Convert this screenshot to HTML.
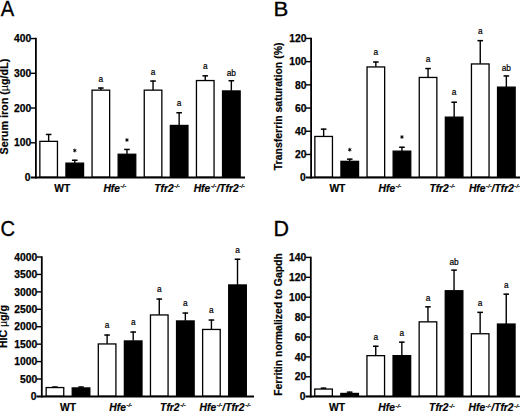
<!DOCTYPE html>
<html><head><meta charset="utf-8"><title>Figure</title>
<style>
html,body{margin:0;padding:0;background:#fff;}
body{width:520px;height:413px;overflow:hidden;}
svg{display:block;font-family:"Liberation Sans", sans-serif;}
</style></head><body>
<svg width="520" height="413" viewBox="0 0 520 413" font-family='"Liberation Sans", sans-serif'>
<rect width="520" height="413" fill="#fff"/>
<text transform="translate(0.8,16.2) scale(0.96,1.02)" font-size="21" stroke="#000" stroke-width="0.3">A</text>
<line x1="48.65" y1="141.20" x2="48.65" y2="134.00" stroke="#000" stroke-width="1.4"/><line x1="45.85" y1="134.45" x2="51.45" y2="134.45" stroke="#000" stroke-width="1.5"/>
<rect x="39.85" y="141.35" width="17.60" height="35.90" fill="#fff" stroke="#000" stroke-width="1.3"/>
<line x1="74.75" y1="163.00" x2="74.75" y2="159.80" stroke="#000" stroke-width="1.4"/><line x1="71.95" y1="160.25" x2="77.55" y2="160.25" stroke="#000" stroke-width="1.5"/>
<rect x="65.95" y="163.15" width="17.60" height="14.10" fill="#000" stroke="#000" stroke-width="1.3"/>
<path d="M74.75 148.65L74.75 152.35M76.35 149.57L73.15 151.43M76.35 151.43L73.15 149.57" stroke="#000" stroke-width="0.95" fill="none"/><circle cx="74.75" cy="150.50" r="0.8" fill="#000"/>
<line x1="100.85" y1="90.00" x2="100.85" y2="87.60" stroke="#000" stroke-width="1.4"/><line x1="98.05" y1="88.05" x2="103.65" y2="88.05" stroke="#000" stroke-width="1.5"/>
<rect x="92.05" y="90.15" width="17.60" height="87.10" fill="#fff" stroke="#000" stroke-width="1.3"/>
<text x="100.85" y="81.90" font-size="8.3" text-anchor="middle" fill="#000" stroke="#000" stroke-width="0.2">a</text>
<line x1="126.95" y1="154.10" x2="126.95" y2="149.00" stroke="#000" stroke-width="1.4"/><line x1="124.15" y1="149.45" x2="129.75" y2="149.45" stroke="#000" stroke-width="1.5"/>
<rect x="118.15" y="154.25" width="17.60" height="23.00" fill="#000" stroke="#000" stroke-width="1.3"/>
<path d="M126.95 138.15L126.95 141.85M128.55 139.07L125.35 140.93M128.55 140.93L125.35 139.07" stroke="#000" stroke-width="0.95" fill="none"/><circle cx="126.95" cy="140.00" r="0.8" fill="#000"/>
<line x1="153.05" y1="90.00" x2="153.05" y2="80.60" stroke="#000" stroke-width="1.4"/><line x1="150.25" y1="81.05" x2="155.85" y2="81.05" stroke="#000" stroke-width="1.5"/>
<rect x="144.25" y="90.15" width="17.60" height="87.10" fill="#fff" stroke="#000" stroke-width="1.3"/>
<text x="153.05" y="74.80" font-size="8.3" text-anchor="middle" fill="#000" stroke="#000" stroke-width="0.2">a</text>
<line x1="179.15" y1="125.30" x2="179.15" y2="112.30" stroke="#000" stroke-width="1.4"/><line x1="176.35" y1="112.75" x2="181.95" y2="112.75" stroke="#000" stroke-width="1.5"/>
<rect x="170.35" y="125.45" width="17.60" height="51.80" fill="#000" stroke="#000" stroke-width="1.3"/>
<text x="179.15" y="106.00" font-size="8.3" text-anchor="middle" fill="#000" stroke="#000" stroke-width="0.2">a</text>
<line x1="205.25" y1="80.40" x2="205.25" y2="75.40" stroke="#000" stroke-width="1.4"/><line x1="202.45" y1="75.85" x2="208.05" y2="75.85" stroke="#000" stroke-width="1.5"/>
<rect x="196.45" y="80.55" width="17.60" height="96.70" fill="#fff" stroke="#000" stroke-width="1.3"/>
<text x="205.25" y="69.30" font-size="8.3" text-anchor="middle" fill="#000" stroke="#000" stroke-width="0.2">a</text>
<line x1="231.35" y1="90.80" x2="231.35" y2="80.30" stroke="#000" stroke-width="1.4"/><line x1="228.55" y1="80.75" x2="234.15" y2="80.75" stroke="#000" stroke-width="1.5"/>
<rect x="222.55" y="90.95" width="17.60" height="86.30" fill="#000" stroke="#000" stroke-width="1.3"/>
<text x="231.35" y="75.60" font-size="8.3" text-anchor="middle" fill="#000" stroke="#000" stroke-width="0.2">ab</text>
<line x1="35.9" y1="37.85" x2="35.9" y2="178.45" stroke="#000" stroke-width="1.8"/>
<line x1="30.599999999999998" y1="177.45" x2="245" y2="177.45" stroke="#000" stroke-width="1.9"/>
<line x1="30.599999999999998" y1="38.55" x2="35.9" y2="38.55" stroke="#000" stroke-width="1.4"/>
<text x="31.30" y="42.20" font-size="10.3" font-weight="bold" text-anchor="end" stroke="#000" stroke-width="0.25">400</text>
<line x1="30.599999999999998" y1="73.30" x2="35.9" y2="73.30" stroke="#000" stroke-width="1.4"/>
<text x="31.30" y="76.95" font-size="10.3" font-weight="bold" text-anchor="end" stroke="#000" stroke-width="0.25">300</text>
<line x1="30.599999999999998" y1="108.05" x2="35.9" y2="108.05" stroke="#000" stroke-width="1.4"/>
<text x="31.30" y="111.70" font-size="10.3" font-weight="bold" text-anchor="end" stroke="#000" stroke-width="0.25">200</text>
<line x1="30.599999999999998" y1="142.80" x2="35.9" y2="142.80" stroke="#000" stroke-width="1.4"/>
<text x="31.30" y="146.45" font-size="10.3" font-weight="bold" text-anchor="end" stroke="#000" stroke-width="0.25">100</text>
<text x="30.50" y="181.20" font-size="10.3" font-weight="bold" text-anchor="end" stroke="#000" stroke-width="0.25">0</text>
<text transform="translate(7.5,106.6) rotate(-90)" font-size="10.75" font-weight="bold" text-anchor="middle" stroke="#000" stroke-width="0.2">Serum iron (<tspan font-weight="normal" stroke-width="0.1">µ</tspan>g/dL)</text>
<text x="54.20" y="191.5" font-size="10.3" font-weight="bold" stroke="#000" stroke-width="0.2">WT</text>
<text x="103.40" y="191.5" font-size="10.3" font-weight="bold" stroke="#000" stroke-width="0.2" font-style="italic">Hfe<tspan font-size="5.8" dy="-3.7" dx="0.6">-/-</tspan></text>
<text x="154.20" y="191.5" font-size="10.3" font-weight="bold" stroke="#000" stroke-width="0.2" font-style="italic">Tfr2<tspan font-size="5.8" dy="-3.7" dx="0.6">-/-</tspan></text>
<text x="193.70" y="191.5" font-size="10.3" font-weight="bold" stroke="#000" stroke-width="0.2" font-style="italic">Hfe<tspan font-size="5.8" dy="-3.7" dx="0.6">-/-</tspan><tspan dy="3.7" font-size="10.3">/Tfr2</tspan><tspan font-size="5.8" dy="-3.7" dx="0.6">-/-</tspan></text>
<text transform="translate(273.5,16.3) scale(1.06,1)" font-size="21" stroke="#000" stroke-width="0.3">B</text>
<line x1="323.65" y1="136.30" x2="323.65" y2="128.70" stroke="#000" stroke-width="1.4"/><line x1="320.85" y1="129.15" x2="326.45" y2="129.15" stroke="#000" stroke-width="1.5"/>
<rect x="314.85" y="136.45" width="17.60" height="40.85" fill="#fff" stroke="#000" stroke-width="1.3"/>
<line x1="349.75" y1="161.20" x2="349.75" y2="158.70" stroke="#000" stroke-width="1.4"/><line x1="346.95" y1="159.15" x2="352.55" y2="159.15" stroke="#000" stroke-width="1.5"/>
<rect x="340.95" y="161.35" width="17.60" height="15.95" fill="#000" stroke="#000" stroke-width="1.3"/>
<path d="M349.75 147.85L349.75 151.55M351.35 148.77L348.15 150.62M351.35 150.62L348.15 148.77" stroke="#000" stroke-width="0.95" fill="none"/><circle cx="349.75" cy="149.70" r="0.8" fill="#000"/>
<line x1="375.85" y1="66.80" x2="375.85" y2="61.60" stroke="#000" stroke-width="1.4"/><line x1="373.05" y1="62.05" x2="378.65" y2="62.05" stroke="#000" stroke-width="1.5"/>
<rect x="367.05" y="66.95" width="17.60" height="110.35" fill="#fff" stroke="#000" stroke-width="1.3"/>
<text x="375.85" y="55.00" font-size="8.3" text-anchor="middle" fill="#000" stroke="#000" stroke-width="0.2">a</text>
<line x1="401.95" y1="151.00" x2="401.95" y2="146.80" stroke="#000" stroke-width="1.4"/><line x1="399.15" y1="147.25" x2="404.75" y2="147.25" stroke="#000" stroke-width="1.5"/>
<rect x="393.15" y="151.15" width="17.60" height="26.15" fill="#000" stroke="#000" stroke-width="1.3"/>
<path d="M401.95 135.15L401.95 138.85M403.55 136.07L400.35 137.93M403.55 137.93L400.35 136.07" stroke="#000" stroke-width="0.95" fill="none"/><circle cx="401.95" cy="137.00" r="0.8" fill="#000"/>
<line x1="428.05" y1="77.30" x2="428.05" y2="68.10" stroke="#000" stroke-width="1.4"/><line x1="425.25" y1="68.55" x2="430.85" y2="68.55" stroke="#000" stroke-width="1.5"/>
<rect x="419.25" y="77.45" width="17.60" height="99.85" fill="#fff" stroke="#000" stroke-width="1.3"/>
<text x="428.05" y="61.60" font-size="8.3" text-anchor="middle" fill="#000" stroke="#000" stroke-width="0.2">a</text>
<line x1="454.15" y1="117.00" x2="454.15" y2="101.80" stroke="#000" stroke-width="1.4"/><line x1="451.35" y1="102.25" x2="456.95" y2="102.25" stroke="#000" stroke-width="1.5"/>
<rect x="445.35" y="117.15" width="17.60" height="60.15" fill="#000" stroke="#000" stroke-width="1.3"/>
<text x="454.15" y="95.40" font-size="8.3" text-anchor="middle" fill="#000" stroke="#000" stroke-width="0.2">a</text>
<line x1="480.25" y1="63.80" x2="480.25" y2="40.20" stroke="#000" stroke-width="1.4"/><line x1="477.45" y1="40.65" x2="483.05" y2="40.65" stroke="#000" stroke-width="1.5"/>
<rect x="471.45" y="63.95" width="17.60" height="113.35" fill="#fff" stroke="#000" stroke-width="1.3"/>
<text x="480.25" y="34.10" font-size="8.3" text-anchor="middle" fill="#000" stroke="#000" stroke-width="0.2">a</text>
<line x1="506.35" y1="87.00" x2="506.35" y2="75.50" stroke="#000" stroke-width="1.4"/><line x1="503.55" y1="75.95" x2="509.15" y2="75.95" stroke="#000" stroke-width="1.5"/>
<rect x="497.55" y="87.15" width="17.60" height="90.15" fill="#000" stroke="#000" stroke-width="1.3"/>
<text x="506.35" y="70.80" font-size="8.3" text-anchor="middle" fill="#000" stroke="#000" stroke-width="0.2">ab</text>
<line x1="311.1" y1="37.75" x2="311.1" y2="178.5" stroke="#000" stroke-width="1.8"/>
<line x1="305.8" y1="177.5" x2="520" y2="177.5" stroke="#000" stroke-width="1.9"/>
<line x1="305.8" y1="38.45" x2="311.1" y2="38.45" stroke="#000" stroke-width="1.4"/>
<text x="306.50" y="42.10" font-size="10.3" font-weight="bold" text-anchor="end" stroke="#000" stroke-width="0.25">120</text>
<line x1="305.8" y1="61.65" x2="311.1" y2="61.65" stroke="#000" stroke-width="1.4"/>
<text x="306.50" y="65.30" font-size="10.3" font-weight="bold" text-anchor="end" stroke="#000" stroke-width="0.25">100</text>
<line x1="305.8" y1="84.85" x2="311.1" y2="84.85" stroke="#000" stroke-width="1.4"/>
<text x="306.50" y="88.50" font-size="10.3" font-weight="bold" text-anchor="end" stroke="#000" stroke-width="0.25">80</text>
<line x1="305.8" y1="108.05" x2="311.1" y2="108.05" stroke="#000" stroke-width="1.4"/>
<text x="306.50" y="111.70" font-size="10.3" font-weight="bold" text-anchor="end" stroke="#000" stroke-width="0.25">60</text>
<line x1="305.8" y1="131.25" x2="311.1" y2="131.25" stroke="#000" stroke-width="1.4"/>
<text x="306.50" y="134.90" font-size="10.3" font-weight="bold" text-anchor="end" stroke="#000" stroke-width="0.25">40</text>
<line x1="305.8" y1="154.45" x2="311.1" y2="154.45" stroke="#000" stroke-width="1.4"/>
<text x="306.50" y="158.10" font-size="10.3" font-weight="bold" text-anchor="end" stroke="#000" stroke-width="0.25">20</text>
<text x="305.70" y="181.30" font-size="10.3" font-weight="bold" text-anchor="end" stroke="#000" stroke-width="0.25">0</text>
<text transform="translate(281.5,106.4) rotate(-90)" font-size="10.5" font-weight="bold" text-anchor="middle" stroke="#000" stroke-width="0.2">Transferrin saturation (%)</text>
<text x="329.40" y="191.5" font-size="10.3" font-weight="bold" stroke="#000" stroke-width="0.2">WT</text>
<text x="378.60" y="191.5" font-size="10.3" font-weight="bold" stroke="#000" stroke-width="0.2" font-style="italic">Hfe<tspan font-size="5.8" dy="-3.7" dx="0.6">-/-</tspan></text>
<text x="429.40" y="191.5" font-size="10.3" font-weight="bold" stroke="#000" stroke-width="0.2" font-style="italic">Tfr2<tspan font-size="5.8" dy="-3.7" dx="0.6">-/-</tspan></text>
<text x="468.90" y="191.5" font-size="10.3" font-weight="bold" stroke="#000" stroke-width="0.2" font-style="italic">Hfe<tspan font-size="5.8" dy="-3.7" dx="0.6">-/-</tspan><tspan dy="3.7" font-size="10.3">/Tfr2</tspan><tspan font-size="5.8" dy="-3.7" dx="0.6">-/-</tspan></text>
<text transform="translate(0.6,236.0) scale(0.96,1.05)" font-size="21" stroke="#000" stroke-width="0.3">C</text>
<line x1="54.95" y1="387.40" x2="54.95" y2="386.60" stroke="#000" stroke-width="1.4"/><line x1="52.15" y1="387.05" x2="57.75" y2="387.05" stroke="#000" stroke-width="1.5"/>
<rect x="46.15" y="387.55" width="17.60" height="8.75" fill="#fff" stroke="#000" stroke-width="1.3"/>
<line x1="81.03" y1="387.80" x2="81.03" y2="386.60" stroke="#000" stroke-width="1.4"/><line x1="78.23" y1="387.05" x2="83.83" y2="387.05" stroke="#000" stroke-width="1.5"/>
<rect x="72.23" y="387.95" width="17.60" height="8.35" fill="#000" stroke="#000" stroke-width="1.3"/>
<line x1="107.11" y1="343.80" x2="107.11" y2="334.60" stroke="#000" stroke-width="1.4"/><line x1="104.31" y1="335.05" x2="109.91" y2="335.05" stroke="#000" stroke-width="1.5"/>
<rect x="98.31" y="343.95" width="17.60" height="52.35" fill="#fff" stroke="#000" stroke-width="1.3"/>
<text x="107.11" y="328.40" font-size="8.3" text-anchor="middle" fill="#000" stroke="#000" stroke-width="0.2">a</text>
<line x1="133.19" y1="340.80" x2="133.19" y2="331.60" stroke="#000" stroke-width="1.4"/><line x1="130.39" y1="332.05" x2="135.99" y2="332.05" stroke="#000" stroke-width="1.5"/>
<rect x="124.39" y="340.95" width="17.60" height="55.35" fill="#000" stroke="#000" stroke-width="1.3"/>
<text x="133.19" y="325.40" font-size="8.3" text-anchor="middle" fill="#000" stroke="#000" stroke-width="0.2">a</text>
<line x1="159.27" y1="314.80" x2="159.27" y2="298.60" stroke="#000" stroke-width="1.4"/><line x1="156.47" y1="299.05" x2="162.07" y2="299.05" stroke="#000" stroke-width="1.5"/>
<rect x="150.47" y="314.95" width="17.60" height="81.35" fill="#fff" stroke="#000" stroke-width="1.3"/>
<text x="159.27" y="292.40" font-size="8.3" text-anchor="middle" fill="#000" stroke="#000" stroke-width="0.2">a</text>
<line x1="185.35" y1="320.80" x2="185.35" y2="312.60" stroke="#000" stroke-width="1.4"/><line x1="182.55" y1="313.05" x2="188.15" y2="313.05" stroke="#000" stroke-width="1.5"/>
<rect x="176.55" y="320.95" width="17.60" height="75.35" fill="#000" stroke="#000" stroke-width="1.3"/>
<text x="185.35" y="306.40" font-size="8.3" text-anchor="middle" fill="#000" stroke="#000" stroke-width="0.2">a</text>
<line x1="211.43" y1="329.30" x2="211.43" y2="319.60" stroke="#000" stroke-width="1.4"/><line x1="208.63" y1="320.05" x2="214.23" y2="320.05" stroke="#000" stroke-width="1.5"/>
<rect x="202.63" y="329.45" width="17.60" height="66.85" fill="#fff" stroke="#000" stroke-width="1.3"/>
<text x="211.43" y="313.40" font-size="8.3" text-anchor="middle" fill="#000" stroke="#000" stroke-width="0.2">a</text>
<line x1="237.51" y1="284.80" x2="237.51" y2="258.80" stroke="#000" stroke-width="1.4"/><line x1="234.71" y1="259.25" x2="240.31" y2="259.25" stroke="#000" stroke-width="1.5"/>
<rect x="228.71" y="284.95" width="17.60" height="111.35" fill="#000" stroke="#000" stroke-width="1.3"/>
<text x="237.51" y="252.70" font-size="8.3" text-anchor="middle" fill="#000" stroke="#000" stroke-width="0.2">a</text>
<line x1="41.8" y1="256.30" x2="41.8" y2="397.5" stroke="#000" stroke-width="1.8"/>
<line x1="36.5" y1="396.5" x2="254" y2="396.5" stroke="#000" stroke-width="1.9"/>
<line x1="36.5" y1="257.00" x2="41.8" y2="257.00" stroke="#000" stroke-width="1.4"/>
<text x="37.20" y="260.65" font-size="10.3" font-weight="bold" text-anchor="end" stroke="#000" stroke-width="0.25">4000</text>
<line x1="36.5" y1="274.43" x2="41.8" y2="274.43" stroke="#000" stroke-width="1.4"/>
<text x="37.20" y="278.08" font-size="10.3" font-weight="bold" text-anchor="end" stroke="#000" stroke-width="0.25">3500</text>
<line x1="36.5" y1="291.86" x2="41.8" y2="291.86" stroke="#000" stroke-width="1.4"/>
<text x="37.20" y="295.51" font-size="10.3" font-weight="bold" text-anchor="end" stroke="#000" stroke-width="0.25">3000</text>
<line x1="36.5" y1="309.29" x2="41.8" y2="309.29" stroke="#000" stroke-width="1.4"/>
<text x="37.20" y="312.94" font-size="10.3" font-weight="bold" text-anchor="end" stroke="#000" stroke-width="0.25">2500</text>
<line x1="36.5" y1="326.72" x2="41.8" y2="326.72" stroke="#000" stroke-width="1.4"/>
<text x="37.20" y="330.37" font-size="10.3" font-weight="bold" text-anchor="end" stroke="#000" stroke-width="0.25">2000</text>
<line x1="36.5" y1="344.15" x2="41.8" y2="344.15" stroke="#000" stroke-width="1.4"/>
<text x="37.20" y="347.80" font-size="10.3" font-weight="bold" text-anchor="end" stroke="#000" stroke-width="0.25">1500</text>
<line x1="36.5" y1="361.58" x2="41.8" y2="361.58" stroke="#000" stroke-width="1.4"/>
<text x="37.20" y="365.23" font-size="10.3" font-weight="bold" text-anchor="end" stroke="#000" stroke-width="0.25">1000</text>
<line x1="36.5" y1="379.01" x2="41.8" y2="379.01" stroke="#000" stroke-width="1.4"/>
<text x="37.20" y="382.66" font-size="10.3" font-weight="bold" text-anchor="end" stroke="#000" stroke-width="0.25">500</text>
<text x="36.40" y="400.09" font-size="10.3" font-weight="bold" text-anchor="end" stroke="#000" stroke-width="0.25">0</text>
<text transform="translate(7.3,326.6) rotate(-90)" font-size="10.5" font-weight="bold" text-anchor="middle" stroke="#000" stroke-width="0.2">HIC <tspan font-weight="normal" stroke-width="0.1">µ</tspan>g/g</text>
<text x="60.10" y="410.9" font-size="10.3" font-weight="bold" stroke="#000" stroke-width="0.2">WT</text>
<text x="109.30" y="410.9" font-size="10.3" font-weight="bold" stroke="#000" stroke-width="0.2" font-style="italic">Hfe<tspan font-size="5.8" dy="-3.7" dx="0.6">-/-</tspan></text>
<text x="160.10" y="410.9" font-size="10.3" font-weight="bold" stroke="#000" stroke-width="0.2" font-style="italic">Tfr2<tspan font-size="5.8" dy="-3.7" dx="0.6">-/-</tspan></text>
<text x="199.60" y="410.9" font-size="10.3" font-weight="bold" stroke="#000" stroke-width="0.2" font-style="italic">Hfe<tspan font-size="5.8" dy="-3.7" dx="0.6">-/-</tspan><tspan dy="3.7" font-size="10.3">/Tfr2</tspan><tspan font-size="5.8" dy="-3.7" dx="0.6">-/-</tspan></text>
<text transform="translate(273.4,235.9) scale(1.02,1.03)" font-size="21" stroke="#000" stroke-width="0.3">D</text>
<line x1="323.55" y1="388.90" x2="323.55" y2="387.70" stroke="#000" stroke-width="1.4"/><line x1="320.75" y1="388.15" x2="326.35" y2="388.15" stroke="#000" stroke-width="1.5"/>
<rect x="314.75" y="389.05" width="17.60" height="7.20" fill="#fff" stroke="#000" stroke-width="1.3"/>
<line x1="349.65" y1="393.30" x2="349.65" y2="391.70" stroke="#000" stroke-width="1.4"/><line x1="346.85" y1="392.15" x2="352.45" y2="392.15" stroke="#000" stroke-width="1.5"/>
<rect x="340.85" y="393.45" width="17.60" height="2.80" fill="#000" stroke="#000" stroke-width="1.3"/>
<line x1="375.75" y1="355.50" x2="375.75" y2="345.80" stroke="#000" stroke-width="1.4"/><line x1="372.95" y1="346.25" x2="378.55" y2="346.25" stroke="#000" stroke-width="1.5"/>
<rect x="366.95" y="355.65" width="17.60" height="40.60" fill="#fff" stroke="#000" stroke-width="1.3"/>
<text x="375.75" y="339.70" font-size="8.3" text-anchor="middle" fill="#000" stroke="#000" stroke-width="0.2">a</text>
<line x1="401.85" y1="355.50" x2="401.85" y2="341.70" stroke="#000" stroke-width="1.4"/><line x1="399.05" y1="342.15" x2="404.65" y2="342.15" stroke="#000" stroke-width="1.5"/>
<rect x="393.05" y="355.65" width="17.60" height="40.60" fill="#000" stroke="#000" stroke-width="1.3"/>
<text x="401.85" y="335.70" font-size="8.3" text-anchor="middle" fill="#000" stroke="#000" stroke-width="0.2">a</text>
<line x1="427.95" y1="321.70" x2="427.95" y2="306.40" stroke="#000" stroke-width="1.4"/><line x1="425.15" y1="306.85" x2="430.75" y2="306.85" stroke="#000" stroke-width="1.5"/>
<rect x="419.15" y="321.85" width="17.60" height="74.40" fill="#fff" stroke="#000" stroke-width="1.3"/>
<text x="427.95" y="301.00" font-size="8.3" text-anchor="middle" fill="#000" stroke="#000" stroke-width="0.2">a</text>
<line x1="454.05" y1="290.60" x2="454.05" y2="269.70" stroke="#000" stroke-width="1.4"/><line x1="451.25" y1="270.15" x2="456.85" y2="270.15" stroke="#000" stroke-width="1.5"/>
<rect x="445.25" y="290.75" width="17.60" height="105.50" fill="#000" stroke="#000" stroke-width="1.3"/>
<text x="454.05" y="265.00" font-size="8.3" text-anchor="middle" fill="#000" stroke="#000" stroke-width="0.2">ab</text>
<line x1="480.15" y1="333.60" x2="480.15" y2="311.90" stroke="#000" stroke-width="1.4"/><line x1="477.35" y1="312.35" x2="482.95" y2="312.35" stroke="#000" stroke-width="1.5"/>
<rect x="471.35" y="333.75" width="17.60" height="62.50" fill="#fff" stroke="#000" stroke-width="1.3"/>
<text x="480.15" y="306.20" font-size="8.3" text-anchor="middle" fill="#000" stroke="#000" stroke-width="0.2">a</text>
<line x1="506.25" y1="323.90" x2="506.25" y2="293.70" stroke="#000" stroke-width="1.4"/><line x1="503.45" y1="294.15" x2="509.05" y2="294.15" stroke="#000" stroke-width="1.5"/>
<rect x="497.45" y="324.05" width="17.60" height="72.20" fill="#000" stroke="#000" stroke-width="1.3"/>
<text x="506.25" y="288.00" font-size="8.3" text-anchor="middle" fill="#000" stroke="#000" stroke-width="0.2">a</text>
<line x1="310.8" y1="256.70" x2="310.8" y2="397.45" stroke="#000" stroke-width="1.8"/>
<line x1="305.5" y1="396.45" x2="520" y2="396.45" stroke="#000" stroke-width="1.9"/>
<line x1="305.5" y1="257.40" x2="310.8" y2="257.40" stroke="#000" stroke-width="1.4"/>
<text x="306.20" y="261.05" font-size="10.3" font-weight="bold" text-anchor="end" stroke="#000" stroke-width="0.25">140</text>
<line x1="305.5" y1="277.30" x2="310.8" y2="277.30" stroke="#000" stroke-width="1.4"/>
<text x="306.20" y="280.95" font-size="10.3" font-weight="bold" text-anchor="end" stroke="#000" stroke-width="0.25">120</text>
<line x1="305.5" y1="297.20" x2="310.8" y2="297.20" stroke="#000" stroke-width="1.4"/>
<text x="306.20" y="300.85" font-size="10.3" font-weight="bold" text-anchor="end" stroke="#000" stroke-width="0.25">100</text>
<line x1="305.5" y1="317.10" x2="310.8" y2="317.10" stroke="#000" stroke-width="1.4"/>
<text x="306.20" y="320.75" font-size="10.3" font-weight="bold" text-anchor="end" stroke="#000" stroke-width="0.25">80</text>
<line x1="305.5" y1="337.00" x2="310.8" y2="337.00" stroke="#000" stroke-width="1.4"/>
<text x="306.20" y="340.65" font-size="10.3" font-weight="bold" text-anchor="end" stroke="#000" stroke-width="0.25">60</text>
<line x1="305.5" y1="356.90" x2="310.8" y2="356.90" stroke="#000" stroke-width="1.4"/>
<text x="306.20" y="360.55" font-size="10.3" font-weight="bold" text-anchor="end" stroke="#000" stroke-width="0.25">40</text>
<line x1="305.5" y1="376.80" x2="310.8" y2="376.80" stroke="#000" stroke-width="1.4"/>
<text x="306.20" y="380.45" font-size="10.3" font-weight="bold" text-anchor="end" stroke="#000" stroke-width="0.25">20</text>
<text x="305.40" y="400.35" font-size="10.3" font-weight="bold" text-anchor="end" stroke="#000" stroke-width="0.25">0</text>
<text transform="translate(281.5,324.5) rotate(-90)" font-size="10.45" font-weight="bold" text-anchor="middle" stroke="#000" stroke-width="0.2">Ferritin normalized to Gapdh</text>
<text x="329.10" y="411.2" font-size="10.3" font-weight="bold" stroke="#000" stroke-width="0.2">WT</text>
<text x="378.30" y="411.2" font-size="10.3" font-weight="bold" stroke="#000" stroke-width="0.2" font-style="italic">Hfe<tspan font-size="5.8" dy="-3.7" dx="0.6">-/-</tspan></text>
<text x="429.10" y="411.2" font-size="10.3" font-weight="bold" stroke="#000" stroke-width="0.2" font-style="italic">Tfr2<tspan font-size="5.8" dy="-3.7" dx="0.6">-/-</tspan></text>
<text x="468.60" y="411.2" font-size="10.3" font-weight="bold" stroke="#000" stroke-width="0.2" font-style="italic">Hfe<tspan font-size="5.8" dy="-3.7" dx="0.6">-/-</tspan><tspan dy="3.7" font-size="10.3">/Tfr2</tspan><tspan font-size="5.8" dy="-3.7" dx="0.6">-/-</tspan></text>
</svg>
</body></html>
